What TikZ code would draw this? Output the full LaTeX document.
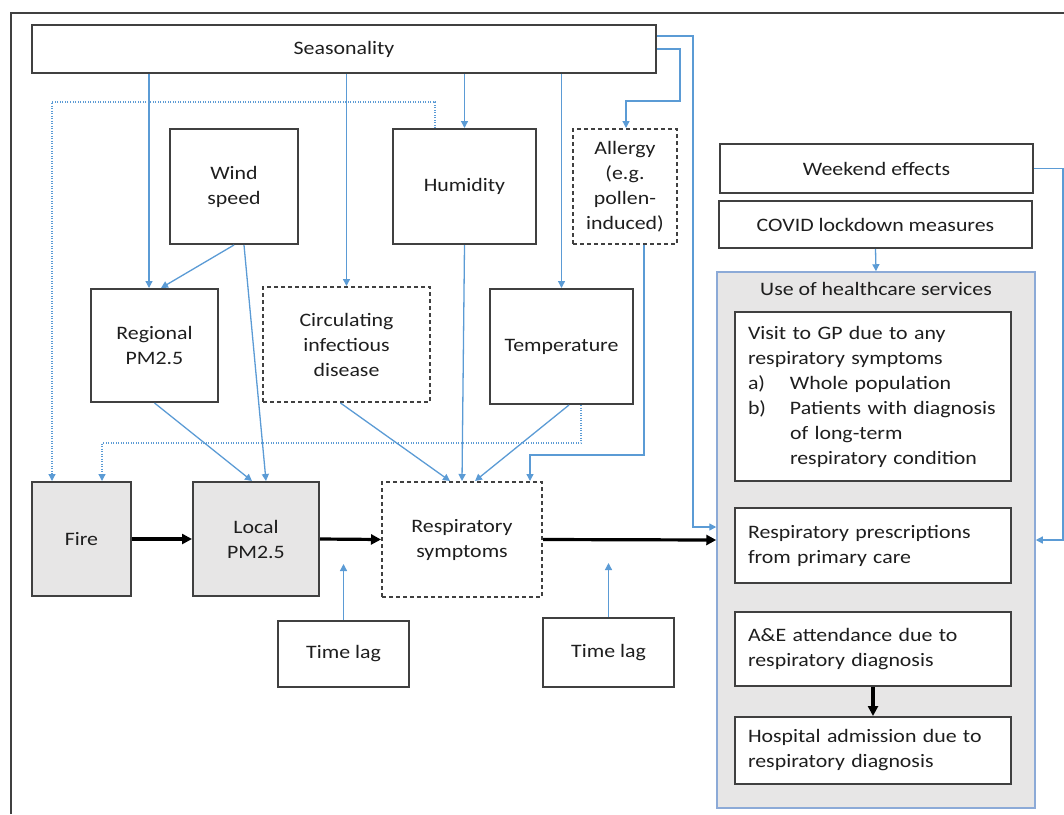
\documentclass[tikz,border=0pt]{standalone}
\usepackage{fontspec}
\setmainfont{Carlito}[FakeStretch=1.15]
\usetikzlibrary{arrows.meta}
\definecolor{linkblue}{RGB}{91,155,213}
\definecolor{boxgray}{RGB}{64,64,64}
\definecolor{firegray}{RGB}{231,230,230}
\definecolor{careblue}{RGB}{140,170,215}
\definecolor{inkgray}{RGB}{30,30,30}
\tikzset{
  box/.style={draw=boxgray,line width=2pt,align=center,inner sep=0pt,text=inkgray},
  dashbox/.style={box,dash pattern=on 4pt off 3pt},
  greybox/.style={box,fill=firegray},
  carebox/.style={box,fill=white,align=left,text width=250pt,inner xsep=13pt},
  flow/.style={draw=linkblue,line width=1.3pt,-{Triangle[length=7pt,width=7pt]}},
  hint/.style={flow,dash pattern=on 1pt off 1.5pt},
  causal/.style={draw=black,line width=3.2pt,-{Triangle[length=10pt,width=10pt]}},
}
\newcommand{\itm}[1]{\makebox[42pt][l]{#1}}
\begin{document}
\begin{tikzpicture}[x=1pt,y=-1pt,font=\fontsize{19}{25}\selectfont]
      \useasboundingbox (0,0) rectangle (1064,814);
      \draw[boxgray,line width=2pt] (11,814)--(11,13)--(1064,13);
      \node[box,minimum width=624pt,minimum height=48pt] (season) at (344,49) {Seasonality};
      \node[box,minimum width=128pt,minimum height=115pt] (wind) at (234,186.5) {Wind\\speed};
      \node[box,minimum width=143pt,minimum height=115pt] (humid) at (464.5,186.5) {Humidity};
      \node[dashbox,minimum width=104pt,minimum height=115pt] (allergy) at (625,186.5) {Allergy\\(e.g.\\pollen-\\induced)};
      \node[box,minimum width=313pt,minimum height=49pt] (weekend) at (876.5,168.5) {Weekend effects};
      \node[box,minimum width=313pt,minimum height=47pt] (covid) at (875.5,224.5) {COVID lockdown measures};
      \node[box,minimum width=127pt,minimum height=113pt] (regional) at (154.5,345.5) {Regional\\PM2.5};
      \node[dashbox,minimum width=167pt,minimum height=115pt] (circ) at (346.5,344.5) {Circulating\\infectious\\disease};
      \node[box,minimum width=143pt,minimum height=115pt] (temp) at (561.5,346.5) {Temperature};
      \node[greybox,minimum width=99pt,minimum height=114pt] (fire) at (81.5,539) {Fire};
      \node[greybox,minimum width=126pt,minimum height=114pt] (local) at (256,539) {Local\\PM2.5};
      \node[dashbox,minimum width=160pt,minimum height=115pt] (resp) at (462,539.5) {Respiratory\\symptoms};
      \node[box,minimum width=131pt,minimum height=66pt] (lag1) at (343.5,654) {Time lag};
      \node[box,minimum width=131pt,minimum height=69pt] (lag2) at (608.5,652.5) {Time lag};
      \coordinate (lag1end) at (343.5,564);
      \coordinate (lag2end) at (608.5,563);
      \node[box,draw=careblue,line width=1.5pt,fill=firegray,minimum width=318pt,minimum height=536pt] (care) at (876,540) {};
      \node[text=inkgray] (caretitle) at ([yshift=-18pt]care.north) {Use of healthcare services};
      \node[carebox,minimum height=169pt] (gp) at (873,396.5) {Visit to GP due to any\\respiratory symptoms\\\itm{a)}Whole population\\\itm{b)}Patients with diagnosis\\\itm{}of long-term\\\itm{}respiratory condition};
      \node[carebox,minimum height=75pt] (presc) at (873,545.5) {Respiratory prescriptions\\from primary care};
      \node[carebox,minimum height=74pt] (ae) at (873,649) {A\&E attendance due to\\respiratory diagnosis};
      \node[carebox,minimum height=67pt] (hosp) at (873,750.5) {Hospital admission due to\\respiratory diagnosis};
      \draw[flow] ([xshift=-5.5pt]season.south -| regional.north)--([xshift=-5.5pt]regional.north);
      \draw[flow] (season.south -| circ.north)--(circ.north);
      \draw[flow] (season.south -| humid.north)--(humid.north);
      \draw[flow] (season.south -| temp.north)--(temp.north);
      \draw[flow] (season.east)-|(680,101)-|([xshift=1pt]allergy.north);
      \draw[flow] ([yshift=13pt]season.east)-|(693,527)--([yshift=13pt]care.west);
      \draw[hint] ([xshift=-29.5pt]humid.north)|-(52,102)--([xshift=-29.5pt]fire.north);
      \draw[hint] ([xshift=19.5pt]temp.south)|-(102,443)--([xshift=20.5pt]fire.north);
      \draw[flow] (wind.south)--([xshift=6.5pt]regional.north);
      \draw[flow] ([xshift=10pt]wind.south)--([xshift=10pt]local.north);
      \draw[flow] (regional.south)--([xshift=-4pt]local.north);
      \draw[flow] ([xshift=-6pt]circ.south)--([xshift=-12pt]resp.north);
      \draw[flow] (humid.south)--(resp.north);
      \draw[flow] ([xshift=7.5pt]temp.south)--([xshift=13pt]resp.north);
      \draw[flow] ([xshift=19pt]allergy.south)|-(530,455)--([xshift=68pt]resp.north);
      \draw[flow] (lag1.north)--(lag1end);
      \draw[flow] (lag2.north)--(lag2end);
      \draw[flow] (covid.south)--(care.north);
      \draw[flow] (weekend.east)--++(29,0)|-(care.east);
      \draw[causal] (fire.east)--(local.west);
      \draw[causal] (local.east)--(resp.west);
      \draw[causal] (resp.east)--(care.west);
      \draw[causal] (ae.south)--(hosp.north);
    \end{tikzpicture}
\end{document}
